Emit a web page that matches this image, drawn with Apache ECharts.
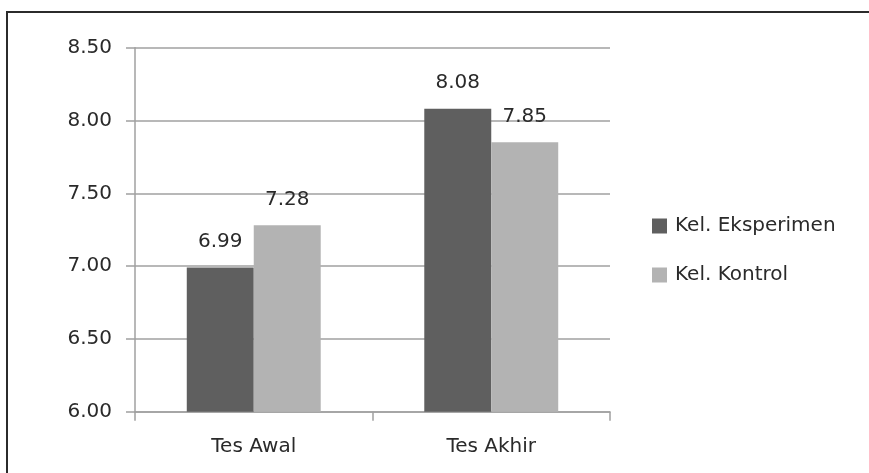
<!DOCTYPE html>
<html>
<head>
<meta charset="utf-8">
<script src="https://cdn.jsdelivr.net/npm/echarts@6/dist/echarts.min.js"></script>
<style>
  html, body { margin: 0; padding: 0; background: #fff; }
  #chart { width: 869px; height: 473px; }
</style>
</head>
<body>
<div id="chart"></div>
<script>
// data
var categories = ["Tes Awal", "Tes Akhir"];
var eksperimen = [6.99, 8.08];
var kontrol = [7.28, 7.85];
var yTicks = { min: 6, max: 8.5, step: 0.5 };

var font = "DejaVu Sans";
var textColor = "#2a2a2a";
var lineColor = "#a0a0a0";

var myChart = echarts.init(document.getElementById("chart"));
var option = {
  animation: false,
  backgroundColor: "#fff",
  textStyle: { fontFamily: font },
  graphic: [
    {
      type: "rect",
      shape: { x: 7, y: 12, width: 900, height: 500 },
      style: { fill: "none", stroke: "#2b2b2b", lineWidth: 2 }
    }
  ],
  grid: { left: 135, right: 259, top: 47.7, bottom: 61.3 },
  legend: {
    orient: "vertical",
    left: 647,
    top: 211,
    itemWidth: 15,
    itemHeight: 15,
    itemGap: 29,
    icon: "rect",
    textStyle: {
      fontFamily: font,
      fontSize: 20,
      color: textColor,
      lineHeight: 20,
      padding: [0, 0, 0, 3]
    },
    data: ["Kel. Eksperimen", "Kel. Kontrol"]
  },
  xAxis: {
    type: "category",
    data: categories,
    axisLine: { lineStyle: { color: lineColor, width: 1.5 } },
    axisTick: { show: true, length: 9, lineStyle: { color: lineColor, width: 1.5 } },
    axisLabel: { fontFamily: font, fontSize: 20, color: textColor, margin: 25 }
  },
  yAxis: {
    type: "value",
    min: yTicks.min,
    max: yTicks.max,
    interval: yTicks.step,
    axisLine: { show: true, lineStyle: { color: lineColor, width: 1.5 } },
    axisTick: { show: true, length: 9, lineStyle: { color: lineColor, width: 1.5 } },
    splitLine: { show: true, lineStyle: { color: lineColor, width: 1.5 } },
    axisLabel: {
      fontFamily: font,
      fontSize: 20,
      color: textColor,
      margin: 23,
      formatter: function(v) {
        return v.toFixed(2);
      }
    }
  },
  series: [
    {
      name: "Kel. Eksperimen",
      type: "bar",
      data: eksperimen,
      itemStyle: { color: "#5f5f5f" },
      barGap: "0%",
      barCategoryGap: "43.6%",
      label: {
        show: true,
        position: "top",
        distance: 16,
        fontFamily: font,
        fontSize: 20,
        color: textColor,
        formatter: function(p) {
          return p.value.toFixed(2);
        }
      }
    },
    {
      name: "Kel. Kontrol",
      type: "bar",
      data: kontrol,
      itemStyle: { color: "#b3b3b3" },
      barGap: "0%",
      barCategoryGap: "43.6%",
      label: {
        show: true,
        position: "top",
        distance: 16,
        fontFamily: font,
        fontSize: 20,
        color: textColor,
        formatter: function(p) {
          return p.value.toFixed(2);
        }
      }
    }
  ]
};
myChart.setOption(option, true);
</script>
</body>
</html>
